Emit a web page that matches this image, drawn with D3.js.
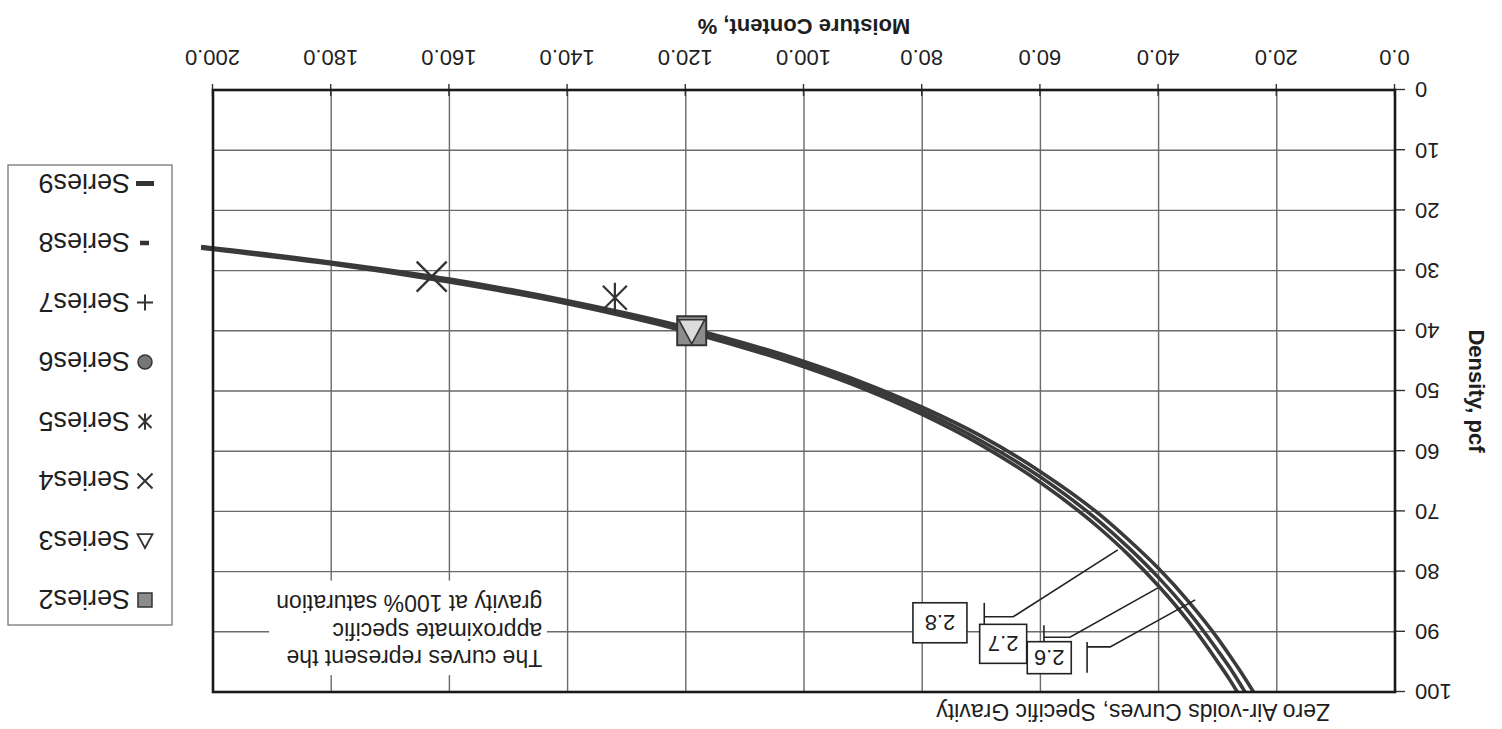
<!DOCTYPE html>
<html>
<head>
<meta charset="UTF-8">
<title>Zero Air-voids Curves</title>
<style>
body { margin: 0; background: #fff; }
text { font-family: Arial, "Liberation Sans", sans-serif; fill: #1e1e1e; }
</style>
</head>
<body>
<svg width="1502" height="729"></svg>
<script src="https://d3js.org/d3.v7.min.js"></script>
<script>
// moisture content, % along each zero air-voids curve
var moisture = [22, 24, 26, 28, 30, 35, 40, 45, 50, 60, 70, 80, 90, 100, 120, 140, 160, 180, 202];
// density, pcf
var dens26 = [103.2, 99.9, 96.8, 93.9, 91.1, 84.9, 79.5, 74.8, 70.5, 63.4, 57.5, 52.7, 48.6, 45.1, 39.4, 35.0, 31.4, 28.6, 26.0];
var dens27 = [105.7, 102.2, 99.0, 95.9, 93.1, 86.6, 81.0, 76.1, 71.7, 64.3, 58.3, 53.3, 49.1, 45.5, 39.7, 35.2, 31.7, 28.8, 26.1];
var dens28 = [108.1, 104.5, 101.1, 97.9, 95.0, 88.2, 82.4, 77.3, 72.8, 65.2, 59.0, 53.9, 49.6, 46.0, 40.1, 35.5, 31.9, 28.9, 26.3];

var xTicks = [0, 20, 40, 60, 80, 100, 120, 140, 160, 180, 200];
var yTicks = [0, 10, 20, 30, 40, 50, 60, 70, 80, 90, 100];

// test points (moisture, density)
var series2 = [[119, 40]];
var series3 = [[119, 40]];
var series4 = [[163, 31]];
var series5 = [[132, 34.5]];

var legendNames = ["Series2", "Series3", "Series4", "Series5", "Series6", "Series7", "Series8", "Series9"];
var noteLines = ["The curves represent the", "approximate specific", "gravity at 100% saturation"];

var svg = d3.select("svg"),
    width = +svg.attr("width"),
    height = +svg.attr("height");

var plotL = 107, plotR = 1289, plotT = 37, plotB = 639;

var x = d3.scaleLinear().domain([0, 200]).range([plotL, plotR]);
var y = d3.scaleLinear().domain([0, 100]).range([plotB, plotT]);

// the scanned page is upside down: draw it upright, then turn it
var root = svg.append("g")
    .attr("transform", "rotate(180 " + width / 2 + " " + height / 2 + ")");

// grid
root.append("g").selectAll("line").data(xTicks.slice(1, -1)).enter().append("line")
    .attr("x1", d => x(d)).attr("x2", d => x(d))
    .attr("y1", plotT).attr("y2", plotB)
    .attr("stroke", "#6a6a6a").attr("stroke-width", 1.4);
root.append("g").selectAll("line").data(yTicks.slice(1, -1)).enter().append("line")
    .attr("x1", plotL).attr("x2", plotR)
    .attr("y1", d => y(d)).attr("y2", d => y(d))
    .attr("stroke", "#6a6a6a").attr("stroke-width", 1.4);

// axes
var xAxis = root.append("g")
    .attr("transform", "translate(0," + plotB + ")")
    .call(d3.axisBottom(x).tickValues(xTicks).tickFormat(d3.format(".1f")).tickSize(6).tickPadding(18));
var yAxis = root.append("g")
    .attr("transform", "translate(" + plotL + ",0)")
    .call(d3.axisLeft(y).tickValues(yTicks).tickSize(10).tickPadding(10));
[xAxis, yAxis].forEach(function(a) {
  a.select(".domain").remove();
  a.selectAll("line").attr("stroke", "#333").attr("stroke-width", 1.4);
  a.selectAll("text").attr("font-size", 22).attr("fill", "#1e1e1e")
    .attr("font-family", "Arial, 'Liberation Sans', sans-serif");
});
xAxis.selectAll(".tick line").attr("y1", -6);

// explanation box (white, hides the grid)
var note = root.append("g");
note.append("rect")
    .attr("x", x(143.5)).attr("y", y(97.2))
    .attr("width", x(190.5) - x(143.5)).attr("height", y(81.5) - y(97.2))
    .attr("fill", "#fff");
note.selectAll("text").data(noteLines).enter().append("text")
    .attr("x", x(144.3))
    .attr("y", (d, i) => y([93.0, 88.5, 83.9][i]))
    .attr("font-size", 23)
    .text(d => d);

// zero air-voids curves
root.append("clipPath").attr("id", "clip")
  .append("rect").attr("x", 0).attr("y", plotT).attr("width", width).attr("height", height);

var line = d3.line().x(d => x(d[0])).y(d => y(d[1])).curve(d3.curveMonotoneX);
var curves = [dens26, dens27, dens28].map(function(ds) {
  return moisture.map((w, i) => [w, ds[i]]);
});
root.append("g").attr("clip-path", "url(#clip)")
  .selectAll("path").data(curves).enter().append("path")
    .attr("d", line)
    .attr("fill", "none")
    .attr("stroke", "#3a3a3a")
    .attr("stroke-width", 3.6);

// callouts for the specific gravity labels
var callouts = [
  {t: "2.8", box: [77, 88.5], bw: 54, bh: 40, bar: [69.5, 85.2, 89.7], elbow: [64.6, 87.5], end: [46.9, 76.4]},
  {t: "2.7", box: [66.3, 92], bw: 47, bh: 39, bar: [59.4, 88.9, 93.6], elbow: [55, 90.9], end: [40.1, 82.7]},
  {t: "2.6", box: [58.5, 94.3], bw: 44, bh: 32, bar: [52.1, 91.7, 96.8], elbow: [48.2, 92.5], end: [33.8, 84.7]}
];
var co = root.append("g").selectAll("g").data(callouts).enter().append("g");
co.append("line")
    .attr("x1", d => x(d.bar[0])).attr("x2", d => x(d.bar[0]))
    .attr("y1", d => y(d.bar[1])).attr("y2", d => y(d.bar[2]))
    .attr("stroke", "#222").attr("stroke-width", 1.6);
co.append("polyline")
    .attr("points", d => [[x(d.bar[0]), y(d.elbow[1])], [x(d.elbow[0]), y(d.elbow[1])], [x(d.end[0]), y(d.end[1])]].join(" "))
    .attr("fill", "none").attr("stroke", "#222").attr("stroke-width", 1.6);
co.append("rect")
    .attr("x", d => x(d.box[0]) - d.bw / 2).attr("y", d => y(d.box[1]) - d.bh / 2)
    .attr("width", d => d.bw).attr("height", d => d.bh)
    .attr("fill", "#fff").attr("stroke", "#222").attr("stroke-width", 1.6);
co.append("text")
    .attr("x", d => x(d.box[0])).attr("y", d => y(d.box[1]))
    .attr("dy", "0.36em").attr("text-anchor", "middle")
    .attr("font-size", 22)
    .text(d => d.t);

// markers
function markerPath(kind, s) {
  var h = s / 2;
  if (kind === "times") return "M" + -h + "," + -h + "L" + h + "," + h + "M" + -h + "," + h + "L" + h + "," + -h;
  if (kind === "asterisk") return "M" + -h + "," + -h + "L" + h + "," + h + "M" + -h + "," + h + "L" + h + "," + -h + "M0," + -h * 1.25 + "L0," + h * 1.25;
  if (kind === "plus") return "M" + -h + ",0L" + h + ",0M0," + -h + "L0," + h;
  if (kind === "triangle") return "M0," + -h + "L" + h + "," + h * 0.85 + "L" + -h + "," + h * 0.85 + "Z";
  if (kind === "square") return "M" + -h + "," + -h + "H" + h + "V" + h + "H" + -h + "Z";
}
var marks = root.append("g");
marks.selectAll(".s2").data(series2).enter().append("path")
    .attr("transform", d => "translate(" + x(d[0]) + "," + y(d[1]) + ")")
    .attr("d", markerPath("square", 29))
    .attr("fill", "#8c8c8c").attr("stroke", "#333").attr("stroke-width", 2);
marks.selectAll(".s3").data(series3).enter().append("path")
    .attr("transform", d => "translate(" + x(d[0]) + "," + y(d[1]) + ")")
    .attr("d", markerPath("triangle", 26))
    .attr("fill", "#dcdcdc").attr("stroke", "#333").attr("stroke-width", 1.6);
marks.selectAll(".s4").data(series4).enter().append("path")
    .attr("transform", d => "translate(" + x(d[0]) + "," + y(d[1]) + ")")
    .attr("d", markerPath("times", 30))
    .attr("fill", "none").attr("stroke", "#333").attr("stroke-width", 2.4);
marks.selectAll(".s5").data(series5).enter().append("path")
    .attr("transform", d => "translate(" + x(d[0]) + "," + y(d[1]) + ")")
    .attr("d", markerPath("asterisk", 24))
    .attr("fill", "none").attr("stroke", "#333").attr("stroke-width", 2.2);

// plot frame
root.append("rect")
    .attr("x", plotL).attr("y", plotT).attr("width", plotR - plotL).attr("height", plotB - plotT)
    .attr("fill", "none").attr("stroke", "#1a1a1a").attr("stroke-width", 2.6);

// titles
root.append("text")
    .attr("x", (plotL + plotR) / 2).attr("y", 710)
    .attr("text-anchor", "middle").attr("font-size", 22).attr("font-weight", "bold")
    .text("Moisture Content, %");
root.append("text")
    .attr("transform", "translate(33," + (plotT + plotB) / 2 + ") rotate(-90)")
    .attr("text-anchor", "middle").attr("font-size", 22).attr("font-weight", "bold")
    .text("Density, pcf");
root.append("text")
    .attr("x", plotL + 65).attr("y", 25)
    .attr("font-size", 23)
    .text("Zero Air-voids Curves, Specific Gravity");

// legend
var legend = root.append("g");
legend.append("rect")
    .attr("x", 1330).attr("y", 104).attr("width", 164).attr("height", 460)
    .attr("fill", "#fff").attr("stroke", "#777").attr("stroke-width", 1.3);
var item = legend.selectAll(".item").data(legendNames).enter().append("g")
    .attr("transform", (d, i) => "translate(1357," + (129 + i * 59.5) + ")");
item.append("text")
    .attr("x", 15).attr("dy", "0.36em").attr("font-size", 27)
    .text(d => d);
item.each(function(d, i) {
  var g = d3.select(this);
  if (i === 0) g.append("path").attr("d", markerPath("square", 14)).attr("fill", "#8c8c8c").attr("stroke", "#333").attr("stroke-width", 1.5);
  if (i === 1) g.append("path").attr("d", markerPath("triangle", 15)).attr("fill", "#fff").attr("stroke", "#333").attr("stroke-width", 1.8);
  if (i === 2) g.append("path").attr("d", markerPath("times", 15)).attr("fill", "none").attr("stroke", "#333").attr("stroke-width", 2);
  if (i === 3) g.append("path").attr("d", markerPath("asterisk", 13)).attr("fill", "none").attr("stroke", "#333").attr("stroke-width", 2);
  if (i === 4) g.append("circle").attr("r", 7).attr("fill", "#777").attr("stroke", "#333").attr("stroke-width", 1.5);
  if (i === 5) g.append("path").attr("d", markerPath("plus", 16)).attr("fill", "none").attr("stroke", "#333").attr("stroke-width", 2);
  if (i === 6) g.append("line").attr("x1", -4).attr("x2", 5).attr("stroke", "#333").attr("stroke-width", 4.5);
  if (i === 7) g.append("line").attr("x1", -9).attr("x2", 9).attr("stroke", "#333").attr("stroke-width", 5);
});
</script>
</body>
</html>
